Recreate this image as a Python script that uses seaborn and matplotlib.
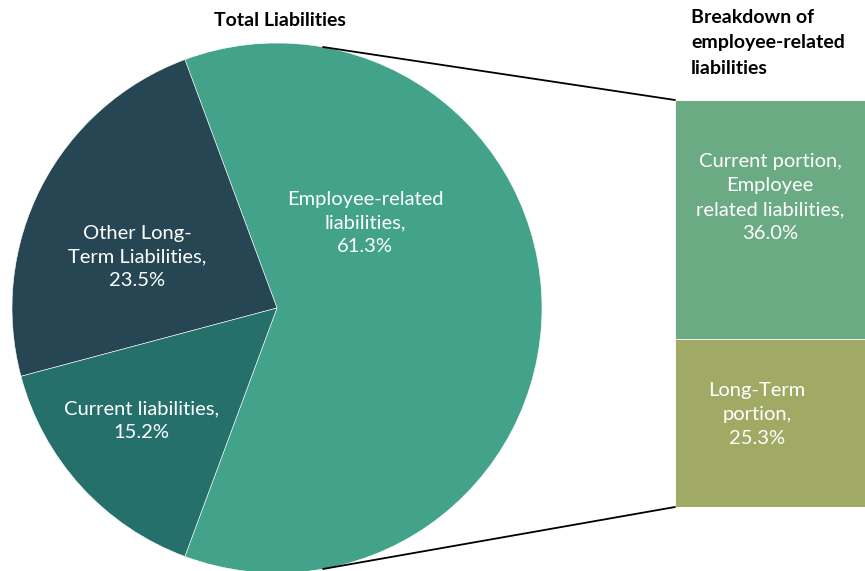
import numpy as np
import matplotlib
matplotlib.use("Agg")
import matplotlib.pyplot as plt
from matplotlib.patches import ConnectionPatch
import seaborn as sns

# Total liabilities split
pie_labels = ["Employee-related\nliabilities,", "Other Long-\nTerm Liabilities,", "Current liabilities,"]
pie_values = [61.3, 23.5, 15.2]
pie_colors = ["#43a28a", "#264653", "#26706c"]

# Employee-related breakdown
bar_labels = ["Current portion,\nEmployee\nrelated liabilities,", "Long-Term\nportion,"]
bar_values = [36.0, 25.3]
bar_colors = ["#6aab84", "#a0aa64"]

sns.set_theme(style="white")
plt.rcParams["font.family"] = ["Lato", "DejaVu Sans"]

W, H = 865, 571
fig = plt.figure(figsize=(W / 100, H / 100), dpi=100)
ax = fig.add_axes([0, 0, 1, 1])

cx, cy, r = 277, H - 308, 265
start = -pie_values[0] * 3.6 / 2
ax.pie(pie_values, colors=pie_colors, startangle=start, counterclock=True,
       center=(cx, cy), radius=r, frame=True,
       wedgeprops=dict(edgecolor="white", linewidth=0.4))
ax.set_xlim(0, W)
ax.set_ylim(0, H)
ax.set_aspect("equal")
ax.axis("off")

txt_kw = dict(color="white", fontsize=14.5, ha="center", va="center", linespacing=1.5)
pie_pos = [(365, 223), (137, 257), (141, 421)]
for (px, py), lab, v in zip(pie_pos, pie_labels, pie_values):
    ax.text(px, H - py, f"{lab}\n{v:.1f}%", **txt_kw)

ax.text(280, H - 20, "Total Liabilities", fontsize=14, fontweight="bold",
        ha="center", va="center", color="black")
ax.text(691, H - 9, "Breakdown of\nemployee-related\nliabilities", fontsize=14,
        fontweight="bold", ha="left", va="top", color="black", linespacing=1.6)

# Stacked bar for the employee-related slice
bax = fig.add_axes([675 / W, (H - 507) / H, (W - 675) / W, (507 - 100) / H])
total = sum(bar_values)
sns.barplot(x=[0], y=[total], color=bar_colors[0], width=1.0, ax=bax,
            saturation=1, edgecolor="white", linewidth=0.6)
sns.barplot(x=[0], y=[bar_values[1]], color=bar_colors[1], width=1.0, ax=bax,
            saturation=1, edgecolor="white", linewidth=0.6)
bax.set_xlim(-0.5, 0.5)
bax.set_ylim(0, total)
bax.axis("off")

bar_text_x = [0.0, -0.07]
bar_text_y = [bar_values[1] + bar_values[0] * 0.59, bar_values[1] * 0.548]
for bx, by, lab, v in zip(bar_text_x, bar_text_y, bar_labels, bar_values):
    bax.text(bx, by, f"{lab}\n{v:.1f}%", **txt_kw)

# Connector lines from the pie slice to the bar
for ang, ycorner in [(80, total), (-80, 0)]:
    a = np.deg2rad(ang)
    p = (cx + r * np.cos(a), cy + r * np.sin(a))
    con = ConnectionPatch(xyA=p, coordsA=ax.transData, xyB=(-0.5, ycorner),
                          coordsB=bax.transData, color="black", linewidth=1.3)
    fig.add_artist(con)

fig.savefig("out.png", dpi=100)
